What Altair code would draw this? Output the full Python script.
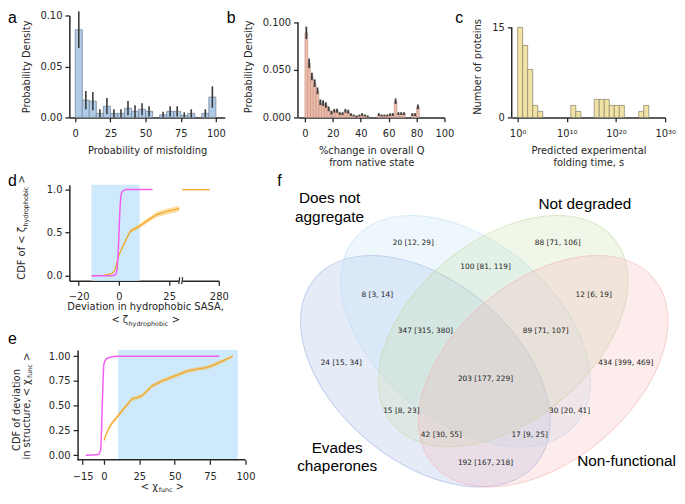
import altair as alt
import pandas as pd

TXT = "#262626"
AXF = "DejaVu Sans"
LETF = "Liberation Sans"

# ---------------- (a) probability of misfolding ----------------
a_bin_start = [0, 5, 10, 15, 20, 25, 30, 35, 40, 45, 50, 55, 60, 65, 70, 75, 80, 85, 90, 95]
a_density = [0.086, 0.017, 0.016, 0.004, 0.011, 0.004, 0.004, 0.009, 0.006, 0.008,
             0.006, 0.0, 0.0025, 0.006, 0.006, 0.002, 0.004, 0.0, 0.004, 0.020]
a_err = [0.018, 0.009, 0.009, 0.004, 0.008, 0.004, 0.004, 0.007, 0.006, 0.006,
         0.005, 0.0, 0.003, 0.005, 0.005, 0.003, 0.004, 0.0, 0.004, 0.0105]
a_bin_width = 5

# ---------------- (b) %change in overall Q ----------------
b_bin_start = list(range(0, 82, 2))
b_density = [0.089, 0.057, 0.043, 0.036, 0.028, 0.016, 0.015, 0.013, 0.009, 0.005,
             0.007, 0.007, 0.004, 0.004, 0.007, 0.006, 0.003, 0.002, 0.001, 0.002,
             0.003, 0.002, 0.001, 0.0, 0.0, 0.0, 0.003, 0.002, 0.002, 0.002,
             0.003, 0.003, 0.017, 0.004, 0.004, 0.004, 0.0, 0.0, 0.003, 0.003, 0.011]
b_err = [0.0065, 0.005, 0.004, 0.004, 0.0035, 0.003, 0.003, 0.003, 0.0025, 0.002,
         0.002, 0.002, 0.0015, 0.0015, 0.002, 0.002, 0.0015, 0.001, 0.001, 0.001,
         0.0015, 0.001, 0.001, 0.0, 0.0, 0.0, 0.0015, 0.001, 0.001, 0.001,
         0.0015, 0.0015, 0.003, 0.0015, 0.0015, 0.0015, 0.0, 0.0, 0.0015, 0.0015, 0.0025]
b_bin_width = 2

# ---------------- (c) predicted folding time (log10 s) ----------------
c_bin_start = [0.0, 1.02, 2.04, 3.06, 4.08, 10.82, 11.84, 15.58, 16.60, 17.62,
               18.64, 19.66, 20.68, 24.63, 25.65]
c_count = [15, 12, 8, 2, 1, 2, 1, 3, 3, 3, 2, 2, 2, 1, 2]
c_bin_width = 1.02
c_tick_exp = [0, 10, 20, 30]

# ---------------- (d) hydrophobic SASA CDFs ----------------
d_mag_x = [-13.6, -5.0, -2.7, -1.5, -1.0, -0.5, 0.0, 0.5, 1.0, 1.5, 2.5, 4.0, 16.7]
d_mag_y = [0.0, 0.0, 0.003, 0.02, 0.06, 0.2, 0.45, 0.75, 0.92, 0.97, 0.99, 1.0, 1.0]
d_org_x = [-13.6, -7.3, -3.2, -1.9, 0.0, 3.3, 5.8, 9.9, 14.8, 18.9, 23.8, 30.0]
d_org_y = [0.0, 0.005, 0.03, 0.07, 0.24, 0.41, 0.52, 0.57, 0.65, 0.71, 0.745, 0.78]
d_org_lo = [0.0, 0.001, 0.024, 0.06, 0.225, 0.39, 0.498, 0.545, 0.62, 0.678, 0.712, 0.746]
d_org_hi = [0.003, 0.009, 0.036, 0.08, 0.255, 0.43, 0.542, 0.595, 0.68, 0.742, 0.778, 0.814]
d_far_x = [262.0, 275.5]
d_far_y = [1.0, 1.0]
d_far_lo = [0.992, 0.992]
d_far_hi = [1.008, 1.008]
d_span = [-13.6, 10.3]

# ---------------- (e) structural deviation CDFs ----------------
e_mag_x = [-12.8, -4.0, -2.3, -1.6, -0.9, 0.0, 2.3, 9.3, 81.5]
e_mag_y = [0.0, 0.007, 0.056, 0.29, 0.62, 0.92, 0.98, 1.0, 1.0]
e_org_x = [0, 3, 6, 9, 14, 20, 23, 27, 34, 41, 50, 59, 66, 73, 82, 91]
e_org_y = [0.15, 0.26, 0.33, 0.38, 0.47, 0.57, 0.58, 0.60, 0.70, 0.75, 0.80, 0.85, 0.87, 0.885, 0.94, 1.0]
e_org_lo = [0.13, 0.24, 0.31, 0.36, 0.45, 0.55, 0.56, 0.58, 0.68, 0.73, 0.78, 0.83, 0.85, 0.865, 0.92, 0.985]
e_org_hi = [0.17, 0.28, 0.35, 0.40, 0.49, 0.59, 0.60, 0.62, 0.72, 0.77, 0.82, 0.87, 0.89, 0.905, 0.96, 1.01]
e_span = [10.0, 94.6]
e_spine = [-18.6, 100.0]

# ---------------- (f) four-set Venn ----------------
venn_names = ["Evades\nchaperones", "Does not\naggregate", "Not degraded", "Non-functional"]
venn_cx = [0.350, 0.450, 0.544, 0.644]
venn_cy = [0.400, 0.500, 0.500, 0.400]
venn_angle = [140, 140, 40, 40]
venn_w = 0.72
venn_h = 0.45
venn_colors = ["#9bafe3", "#bbdff3", "#c3dba3", "#f3b3b3"]
name_x = [0.130, 0.111, 0.748, 0.852]
name_y = [0.209, 0.831, 0.816, 0.177]   # first-line centres
region_text = ["24 [15, 34]", "20 [12, 29]", "88 [71, 106]", "434 [399, 469]",
               "8 [3, 14]", "100 [81, 119]", "12 [6, 19]", "347 [315, 380]",
               "89 [71, 107]", "203 [177, 229]", "15 [8, 23]", "30 [20, 41]",
               "42 [30, 55]", "17 [9, 25]", "192 [167, 218]"]
region_x = [0.14, 0.32, 0.68, 0.85, 0.23, 0.50, 0.77, 0.35, 0.65, 0.50, 0.29, 0.71, 0.39, 0.61, 0.50]
region_y = [0.42, 0.72, 0.72, 0.42, 0.59, 0.66, 0.59, 0.50, 0.50, 0.38, 0.30, 0.30, 0.24, 0.24, 0.17]

MAG = "#f25ef2"
ORG = "#f2a21f"
ORG_BAND = "#fbbd45"
SPAN = "#cde9fb"

ONE = pd.DataFrame({"k": [0]})


def frame(x1, x2, y1, y2):
    return alt.Chart(ONE).mark_rect(opacity=0).encode(
        x=alt.value(x1), x2=alt.value(x2), y=alt.value(y1), y2=alt.value(y2))


def label(text, x, y, size=10, angle=0, align="left", font=AXF, color=TXT, baseline="alphabetic"):
    kw = dict(text=text, font=font, fontSize=size, align=align, baseline=baseline, color=color)
    if angle:
        kw["angle"] = angle
    return alt.Chart(ONE).mark_text(**kw).encode(x=alt.value(x), y=alt.value(y))


def letter(ch, x, y):
    return label(ch, x, y, size=16, font=LETF, color="black")


def spine_y(top):
    return alt.Chart(ONE).mark_rule(color=TXT, strokeWidth=1.5).encode(
        x=alt.value(0), y=alt.datum(0), y2=alt.datum(top))


# ================= panel a =================
dfa = pd.DataFrame({"x0": a_bin_start, "d": a_density, "e": a_err})
dfa["x1"] = dfa["x0"] + a_bin_width
dfa["xm"] = dfa["x0"] + a_bin_width / 2
dfa["lo"] = (dfa["d"] - dfa["e"]).clip(lower=0)
dfa["hi"] = dfa["d"] + dfa["e"]
xs_a = alt.Scale(domain=[-4.2, 106.3], nice=False, zero=False)
ys_a = alt.Scale(domain=[0, 0.1], nice=False)
ax_a = alt.Axis(values=[0, 25, 50, 75, 100], title="Probability of misfolding")
ay_a = alt.Axis(values=[0, 0.05, 0.1], format=".2f", title="Probability Density")
bars_a = alt.Chart(dfa[dfa["d"] > 0]).mark_bar(fill="#aecbe8", stroke="#7b8898", strokeWidth=0.8).encode(
    x=alt.X("x0:Q", scale=xs_a, axis=ax_a), x2="x1:Q",
    y=alt.Y("d:Q", scale=ys_a, axis=ay_a), y2=alt.datum(0))
err_a = alt.Chart(dfa[dfa["e"] > 0]).mark_rule(color="#3a3a3a", strokeWidth=1.6).encode(
    x=alt.X("xm:Q", scale=xs_a, axis=ax_a),
    y=alt.Y("lo:Q", scale=ys_a, axis=ay_a), y2="hi:Q")
panel_a = alt.layer(frame(-62, 158, -5, 159), bars_a, err_a, letter("a", -62, 8)).properties(
    width=157, height=103)

# ================= panel b =================
dfb = pd.DataFrame({"x0": b_bin_start, "d": b_density, "e": b_err})
dfb["x1"] = dfb["x0"] + b_bin_width
dfb["xm"] = dfb["x0"] + b_bin_width / 2
dfb["lo"] = (dfb["d"] - dfb["e"]).clip(lower=0)
dfb["hi"] = dfb["d"] + dfb["e"]
xs_b = alt.Scale(domain=[-5, 100], nice=False, zero=False)
ys_b = alt.Scale(domain=[0, 0.1073], nice=False)
ax_b = alt.Axis(values=[0, 20, 40, 60, 80, 100], title=["%change in overall Q", "from native state"])
ay_b = alt.Axis(values=[0, 0.025, 0.05, 0.075, 0.1], format=".3f", title="Probability Density", domain=False)
bars_b = alt.Chart(dfb[dfb["d"] > 0]).mark_bar(fill="#f2bba8", stroke="#b8958a", strokeWidth=0.6).encode(
    x=alt.X("x0:Q", scale=xs_b, axis=ax_b), x2="x1:Q",
    y=alt.Y("d:Q", scale=ys_b, axis=ay_b), y2=alt.datum(0))
err_b = alt.Chart(dfb[dfb["e"] > 0]).mark_rule(color="#3d3d3d", strokeWidth=1.8).encode(
    x=alt.X("xm:Q", scale=xs_b, axis=ax_b),
    y=alt.Y("lo:Q", scale=ys_b, axis=ay_b), y2="hi:Q")
panel_b = alt.layer(frame(-73, 158, -5, 159), bars_b, err_b, spine_y(0.1), letter("b", -72, 8)).properties(
    width=148, height=103)

# ================= panel c =================
dfc = pd.DataFrame({"x0": c_bin_start, "n": c_count})
dfc["x1"] = dfc["x0"] + c_bin_width
xs_c = alt.Scale(domain=[-1.2, 30], nice=False, zero=False)
ys_c = alt.Scale(domain=[0, 17], nice=False)
c_label_expr = ("datum.value == 0 ? '10\u2070' : datum.value == 10 ? '10\u00b9\u2070' : "
                "datum.value == 20 ? '10\u00b2\u2070' : '10\u00b3\u2070'")
ax_c = alt.Axis(values=c_tick_exp, labelExpr=c_label_expr, title=["Predicted experimental", "folding time, s"])
ay_c = alt.Axis(values=[0, 5, 10, 15], format="d", title="Number of proteins", domain=False)
bars_c = alt.Chart(dfc).mark_bar(fill="#f2e3a5", stroke="#8f8a70", strokeWidth=0.8).encode(
    x=alt.X("x0:Q", scale=xs_c, axis=ax_c), x2="x1:Q",
    y=alt.Y("n:Q", scale=ys_c, axis=ay_c), y2=alt.datum(0))
panel_c = alt.layer(frame(-58, 167, -5, 159), bars_c, spine_y(15), letter("c", -57, 8)).properties(
    width=155, height=103)

# ================= panel d (broken x axis) =================
H_D = 97
ys_d = alt.Scale(domain=[-0.057, 1.057], nice=False, zero=False)
ay_d = alt.Axis(values=[0, 0.5, 1.0], format=".1f", title=None)
xs_dl = alt.Scale(domain=[-24.6, 30], range=[0, 111], nice=False, zero=False)
ax_dl = alt.Axis(values=[-20, 0, 25], title=None, orient="bottom")
xs_dr = alt.Scale(domain=[262, 280], range=[114, 151], nice=False, zero=False)
ax_dr = alt.Axis(values=[280], title=None, orient="bottom")


def xdl(f):
    return alt.X(f, scale=xs_dl, axis=ax_dl)


def xdr(f):
    return alt.X(f, scale=xs_dr, axis=ax_dr)


def yd(f):
    return alt.Y(f, scale=ys_d, axis=ay_d)


df_dspan = pd.DataFrame({"x": [d_span[0]], "x2": [d_span[1]]})
df_dmag = pd.DataFrame({"x": d_mag_x, "y": d_mag_y})
df_dorg = pd.DataFrame({"x": d_org_x, "y": d_org_y, "lo": d_org_lo, "hi": d_org_hi})
df_dfar = pd.DataFrame({"x": d_far_x, "y": d_far_y, "lo": d_far_lo, "hi": d_far_hi})

d_left = alt.layer(
    alt.Chart(df_dspan).mark_rect(color=SPAN).encode(x=xdl("x:Q"), x2="x2:Q", y=alt.value(0), y2=alt.value(H_D)),
    alt.Chart(df_dorg).mark_area(color=ORG_BAND, opacity=0.5).encode(x=xdl("x:Q"), y=yd("lo:Q"), y2="hi:Q"),
    alt.Chart(df_dorg).mark_line(color=ORG, strokeWidth=1.1).encode(x=xdl("x:Q"), y=yd("y:Q")),
    alt.Chart(df_dmag).mark_line(color=MAG, strokeWidth=1.5, interpolate="monotone").encode(x=xdl("x:Q"), y=yd("y:Q")),
    alt.Chart(ONE).mark_rule(color=TXT, strokeWidth=1.2).encode(
        x=alt.value(110.5), x2=alt.value(111.5), y=alt.value(H_D + 3.5), y2=alt.value(H_D - 3.5)),
)
d_right = alt.layer(
    alt.Chart(df_dfar).mark_area(color=ORG_BAND, opacity=0.5).encode(x=xdr("x:Q"), y=yd("lo:Q"), y2="hi:Q"),
    alt.Chart(df_dfar).mark_line(color=ORG, strokeWidth=1.1).encode(x=xdr("x:Q"), y=yd("y:Q")),
    alt.Chart(ONE).mark_rule(color=TXT, strokeWidth=1.2).encode(
        x=alt.value(113.5), x2=alt.value(114.5), y=alt.value(H_D + 3.5), y2=alt.value(H_D - 3.5)),
)
panel_d = alt.layer(
    frame(-62, 200, -12, 147),
    d_left, d_right,
    letter("d", -62, 1),
    label("CDF of < \u03b6", -44.5, 96, angle=270),
    label("hydrophobic", -42, 42.3, size=6.5, angle=270),
    label(">", -44.5, -1.2, angle=270),
    label("Deviation in hydrophobic SASA,", 77, 127, align="center"),
    label("< \u03b6", 42.5, 140),
    label("hydrophobic", 59.8, 142.5, size=6.5),
    label(">", 103.5, 140),
).resolve_scale(x="independent").properties(width=151, height=H_D)

# ================= panel e =================
H_E = 111
xs_e = alt.Scale(domain=[-24.4, 100], nice=False, zero=False)
ax_e = alt.Axis(values=[-15, 0, 25, 50, 75, 100], title=None, domain=False)
ys_e = alt.Scale(domain=[-0.047, 1.063], nice=False, zero=False)
ay_e = alt.Axis(values=[0, 0.25, 0.5, 0.75, 1.0], format=".2f", title=None, offset=-8.3)


def xe(f):
    return alt.X(f, scale=xs_e, axis=ax_e)


def ye(f):
    return alt.Y(f, scale=ys_e, axis=ay_e)


df_espan = pd.DataFrame({"x": [e_span[0]], "x2": [e_span[1]]})
df_espine = pd.DataFrame({"x": [e_spine[0]], "x2": [e_spine[1]]})
df_emag = pd.DataFrame({"x": e_mag_x, "y": e_mag_y})
df_eorg = pd.DataFrame({"x": e_org_x, "y": e_org_y, "lo": e_org_lo, "hi": e_org_hi})

panel_e = alt.layer(
    frame(-62, 200, -20, 145),
    alt.Chart(df_espan).mark_rect(color=SPAN).encode(x=xe("x:Q"), x2="x2:Q", y=alt.value(0), y2=alt.value(H_E)),
    alt.Chart(df_eorg).mark_area(color=ORG_BAND, opacity=0.5).encode(x=xe("x:Q"), y=ye("lo:Q"), y2="hi:Q"),
    alt.Chart(df_eorg).mark_line(color=ORG, strokeWidth=1.1).encode(x=xe("x:Q"), y=ye("y:Q")),
    alt.Chart(df_emag).mark_line(color=MAG, strokeWidth=1.5, interpolate="monotone").encode(x=xe("x:Q"), y=ye("y:Q")),
    alt.Chart(df_espine).mark_rule(color=TXT, strokeWidth=1.5).encode(x=xe("x:Q"), x2="x2:Q", y=alt.value(H_E)),
    letter("e", -62, -6),
    label("CDF of deviation", -50, 60.7, angle=270, align="center"),
    label("in structure, < \u03c7", -40, 110.7, angle=270),
    label("func", -37.5, 28.4, size=6.5, angle=270),
    label(">", -40, 11.1, angle=270),
    label("< \u03c7", 72.2, 141.6),
    label("func", 90.3, 143.5, size=6.5),
    label(">", 107.6, 141.6),
).properties(width=178, height=H_E)

# ================= panel f (Venn) =================
K = 405.0
W_F, H_F = 395, 308
Y_TOP = 0.8654
xs_f = alt.Scale(domain=[0, W_F / K], nice=False, zero=False)
ys_f = alt.Scale(domain=[Y_TOP - H_F / K, Y_TOP], nice=False, zero=False)
ratio = venn_h / venn_w
k = 0.5523
ELLIPSE = (f"M 1 0 C 1 {ratio*k:.4f} {k} {ratio:.4f} 0 {ratio:.4f} "
           f"C {-k} {ratio:.4f} -1 {ratio*k:.4f} -1 0 "
           f"C -1 {-ratio*k:.4f} {-k} {-ratio:.4f} 0 {-ratio:.4f} "
           f"C {k} {-ratio:.4f} 1 {-ratio*k:.4f} 1 0 Z")
df_ell = pd.DataFrame({"x": venn_cx, "y": venn_cy, "col": venn_colors,
                       "ang": [(360 - a) % 360 for a in venn_angle],
                       "sz": [(venn_w * K) ** 2] * len(venn_cx)})
df_reg = pd.DataFrame({"x": region_x, "y": region_y, "t": region_text})
df_names = pd.DataFrame({"x": name_x, "y": name_y, "t": venn_names})


def xf():
    return alt.X("x:Q", scale=xs_f, axis=None)


def yf():
    return alt.Y("y:Q", scale=ys_f, axis=None)


ellipses = alt.Chart(df_ell).mark_point(shape=ELLIPSE, filled=True, opacity=1, fillOpacity=0.25,
                                         strokeOpacity=0.55, strokeWidth=1).encode(
    x=xf(), y=yf(),
    fill=alt.Fill("col:N", scale=None), stroke=alt.Stroke("col:N", scale=None),
    size=alt.Size("sz:Q", scale=None), angle=alt.Angle("ang:Q", scale=None))
regions = alt.Chart(df_reg).mark_text(font=AXF, fontSize=7.5, color=TXT).encode(
    x=xf(), y=yf(), text="t:N")
names = alt.Chart(df_names).mark_text(font=LETF, fontSize=15.5, color="black", lineBreak="\n",
                                       lineHeight=18.5, baseline="middle", align="center").encode(
    x=xf(), y=yf(), text="t:N")
panel_f = alt.layer(frame(-18, 396, -12, 312), ellipses, regions, names, letter("f", -8, 1)).properties(
    width=W_F, height=H_F)

# ================= assemble =================
top_row = alt.hconcat(panel_a, panel_b, panel_c, spacing=0)
left_col = alt.vconcat(panel_d, panel_e, spacing=0)
bottom = alt.hconcat(left_col, panel_f, spacing=0)

chart = alt.vconcat(top_row, bottom, spacing=0).properties(padding=0).configure_view(
    stroke=None
).configure_axis(
    labelFont=AXF, labelFontSize=10, labelColor=TXT,
    titleFont=AXF, titleFontSize=10, titleFontWeight="normal", titleColor=TXT,
    titleLineHeight=12,
    domainColor=TXT, domainWidth=1.5, tickColor=TXT, tickWidth=1.3, tickSize=4.5,
    grid=False, labelFlush=False, labelOverlap=False, zindex=1,
).configure_axisX(labelPadding=7, titlePadding=7).configure_axisY(labelPadding=3, titlePadding=9)

chart.save("out.html", embed_options={"renderer": "svg", "actions": False})
